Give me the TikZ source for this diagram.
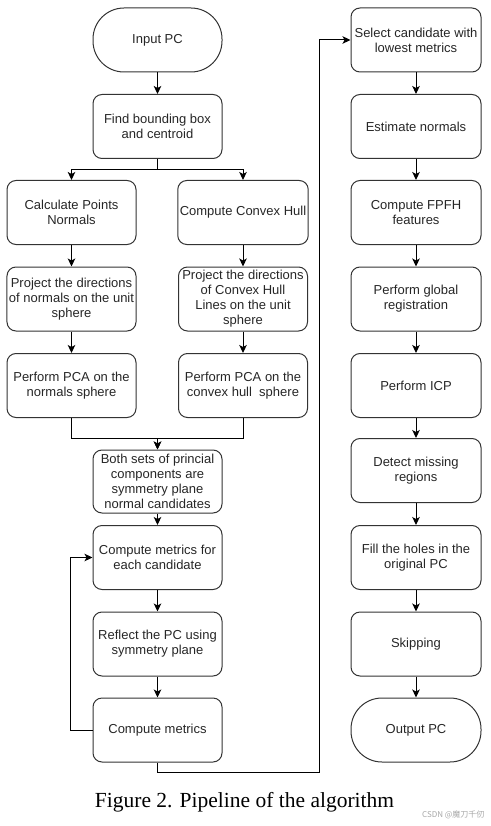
\documentclass[tikz,border=0pt]{standalone}
\usepackage{fontspec}
\setmainfont{Liberation Sans}
\newfontfamily\capfont{Liberation Serif}
\newfontfamily\cjk{Noto Sans CJK SC}
\usepackage{tikz}
\usetikzlibrary{arrows.meta,positioning}

\tikzset{
  procbox/.style={draw=black!80,line width=1pt,rounded corners=9pt,minimum width=129pt,minimum height=64pt,align=center,inner sep=2pt,text=black!85,font=\fontsize{13}{15}\selectfont},
  termbox/.style={procbox,rounded corners=31pt},
  flow/.style={line width=1pt,-{Stealth[length=8pt,width=7.5pt,inset=2pt]}},
  plain/.style={line width=1pt}
}

\begin{document}
\begin{tikzpicture}[x=1pt,y=-1pt]
\useasboundingbox (0,0) rectangle (490,826);

\node[termbox] (inpc) at (157.5,40) {Input PC};
\node[procbox] (bbox) at (157.5,126.5) {Find bounding box\\and centroid};
\node[procbox] (cpn) at (71.5,212.5) {Calculate Points\\Normals};
\node[procbox] (cch) at (243,212.5) {Compute Convex Hull};
\node[procbox] (projn) at (71.5,299) {Project the directions\\of normals on the unit\\sphere};
\node[procbox] (projh) at (243,299) {Project the directions\\of Convex Hull\\Lines on the unit\\sphere};
\node[procbox] (pcan) at (71.5,385.5) {Perform PCA on the\\normals sphere};
\node[procbox] (pcah) at (243,385.5) {Perform PCA on the\\convex hull\ \ sphere};
\node[procbox,minimum height=63pt] (both) at (157.5,481.5) {Both sets of princial\\components are\\symmetry plane\\normal candidates};
\node[procbox] (cmc) at (157.5,557.5) {Compute metrics for\\each candidate};
\node[procbox] (refl) at (157.5,644) {Reflect the PC using\\symmetry plane};
\node[procbox] (cm) at (157.5,730) {Compute metrics};

\node[procbox,minimum width=130pt] (sel) at (416,40) {Select candidate with\\lowest metrics};
\node[procbox,minimum width=130pt] (est) at (416,126.5) {Estimate normals};
\node[procbox,minimum width=130pt] (fpfh) at (416,212.5) {Compute FPFH\\features};
\node[procbox,minimum width=130pt] (glob) at (416,299) {Perform global\\registration};
\node[procbox,minimum width=130pt] (icp) at (416,385.5) {Perform ICP};
\node[procbox,minimum width=130pt] (miss) at (416,470.5) {Detect missing\\regions};
\node[procbox,minimum width=130pt] (fill) at (416,557.5) {Fill the holes in the\\original PC};
\node[procbox,minimum width=130pt] (skip) at (416,644) {Skipping};
\node[termbox,minimum width=130pt] (outpc) at (416,730) {Output PC};

\coordinate (turn) at (319,772);

\draw[flow] (inpc) -- (bbox);
\draw[flow] (bbox.south) -- ++(0,10.5) -| (cpn.north);
\draw[flow] (bbox.south) -- ++(0,10.5) -| (cch.north);
\draw[flow] (cpn) -- (projn);
\draw[flow] (projn) -- (pcan);
\draw[flow] (cch) -- (projh);
\draw[flow] (projh) -- (pcah);
\draw[flow] (pcan.south) -- ++(0,20.5) -| (both.north);
\draw[flow] (pcah.south) -- ++(0,20.5) -| (both.north);
\draw[flow] (both) -- (cmc);
\draw[flow] (cmc) -- (refl);
\draw[flow] (refl) -- (cm);
\draw[flow] (cm.west) -- ++(-22,0) |- (cmc.west);
\draw[flow] (cm.south) |- (turn) |- (sel.west);

\draw[flow] (sel) -- (est);
\draw[flow] (est) -- (fpfh);
\draw[flow] (fpfh) -- (glob);
\draw[flow] (glob) -- (icp);
\draw[flow] (icp) -- (miss);
\draw[flow] (miss) -- (fill);
\draw[flow] (fill) -- (skip);
\draw[flow] (skip) -- (outpc);

\node[font=\capfont\fontsize{21.5}{25}\selectfont] (caption) at (244.5,802.5) {Figure 2. Pipeline of the algorithm};
\node[font=\cjk\fontsize{8}{9}\selectfont,text=black!35,anchor=east] (mark) at (488,815) {CSDN @魔刀千仞};
\end{tikzpicture}
\end{document}
